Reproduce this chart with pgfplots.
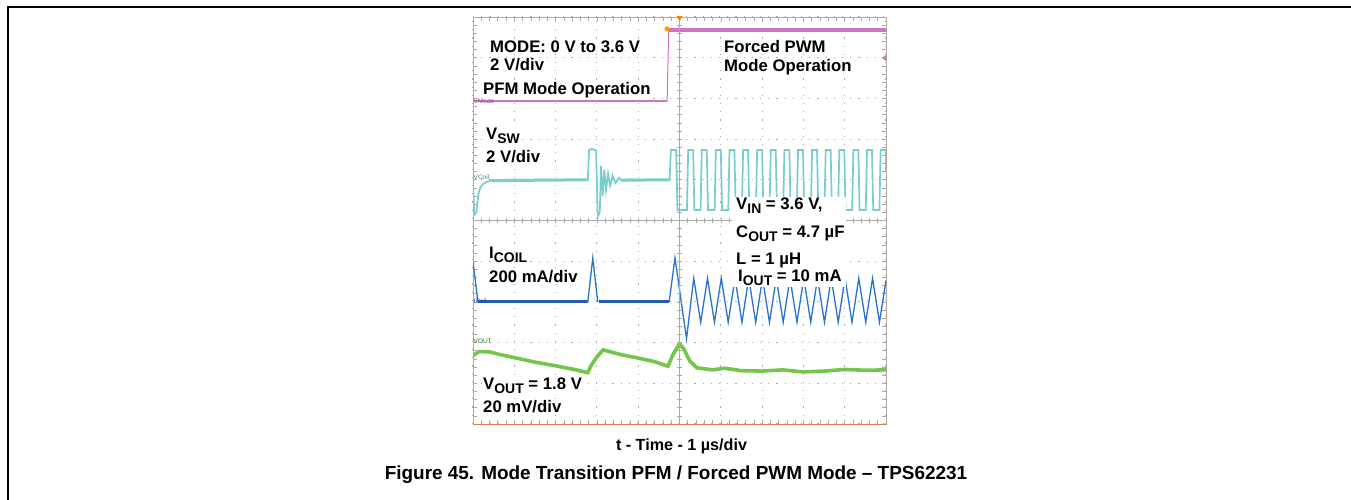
\documentclass[border=0pt]{standalone}
\usepackage{pgfplots}
\pgfplotsset{compat=1.18}
\usepackage{fontspec}
\setmainfont{Liberation Sans}
\definecolor{cmode}{RGB}{208,115,195}
\definecolor{csw}{RGB}{120,205,205}
\definecolor{ccoil}{RGB}{40,115,205}
\definecolor{ccoilb}{RGB}{35,90,180}
\definecolor{cout}{RGB}{115,198,75}
\definecolor{gridc}{RGB}{170,170,170}
\definecolor{framec}{RGB}{185,170,160}
\newcommand{\ann}{\fontsize{16.8}{19}\selectfont\bfseries}
\newcommand{\sub}[1]{\raisebox{-4bp}{\fontsize{14}{14}\selectfont\bfseries #1}}
\newcommand{\chlab}{\fontsize{6.5}{7}\selectfont}
\begin{document}
\begin{tikzpicture}
\path[use as bounding box] (0,0) rectangle (1351bp,500bp);
\draw[line width=2bp] (8bp,0) -- (8bp,493bp) -- (1351bp,493bp);
\begin{axis}[at={(473bp,76bp)}, anchor=south west, width=413bp, height=407bp, scale only axis,
  xmin=0, xmax=10, ymin=0, ymax=10,
  xtick={0,...,10}, ytick={0,...,10}, xticklabels={}, yticklabels={},
  minor x tick num=4, minor y tick num=4, tick align=inside,
  major tick length=4bp, minor tick length=4bp,
  every tick/.style={gridc, line width=0.6bp},
  grid=major, major grid style={gridc, line width=1.1bp, dash pattern=on 1.1bp off 7.1bp},
  axis line style={draw=framec, line width=0.9bp},
  clip=true]
% VMode
\addplot[cmode, line width=2.4bp, no markers] coordinates {(0,7.93) (4.70,7.93)};
\addplot[cmode, line width=1bp, no markers] coordinates {(4.70,7.93) (4.74,9.68)};
\addplot[cmode, line width=3.6bp, no markers] coordinates {(4.74,9.68) (10,9.68)};
% VSW flat (noisy) parts
\addplot[csw, line width=3bp, no markers] coordinates {(0.45,5.98) (2.77,6.0)};
\addplot[csw, line width=3bp, no markers] coordinates {(3.6,5.99) (4.75,6.0)};
% VSW
\addplot[csw, line width=1.7bp, no markers] coordinates {
(0,5.95) (0.03,5.15) (0.08,5.2) (0.13,5.65) (0.18,5.82) (0.25,5.9) (0.35,5.96) (0.5,5.99) (0.8,6.0) (1.5,6.0) (2.2,6.0) (2.78,6.0)
(2.81,6.73) (2.88,6.76) (2.98,6.72) (3.02,5.1) (3.07,5.2) (3.1,6.35) (3.14,5.6) (3.18,6.25) (3.22,5.75) (3.27,6.15) (3.32,5.85) (3.38,6.1) (3.45,5.92) (3.53,6.05) (3.62,5.97) (3.75,6.01) (4.0,6.0) (4.5,6.0) (4.76,6.0)
(4.79,6.73) (4.92,6.73) (4.95,5.26)
(5.18,5.26) (5.21,6.73) (5.33,6.73) (5.36,5.26)
(5.51,5.26) (5.54,6.73) (5.66,6.73) (5.69,5.26)
(5.85,5.26) (5.88,6.73) (6.00,6.73) (6.03,5.26)
(6.18,5.26) (6.21,6.73) (6.33,6.73) (6.36,5.26)
(6.51,5.26) (6.54,6.73) (6.66,6.73) (6.69,5.26)
(6.85,5.26) (6.88,6.73) (7.00,6.73) (7.03,5.26)
(7.18,5.26) (7.21,6.73) (7.33,6.73) (7.36,5.26)
(7.51,5.26) (7.54,6.73) (7.66,6.73) (7.69,5.26)
(7.84,5.26) (7.87,6.73) (7.99,6.73) (8.02,5.26)
(8.18,5.26) (8.21,6.73) (8.33,6.73) (8.36,5.26)
(8.51,5.26) (8.54,6.73) (8.66,6.73) (8.69,5.26)
(8.84,5.26) (8.87,6.73) (8.99,6.73) (9.02,5.26)
(9.18,5.26) (9.21,6.73) (9.33,6.73) (9.36,5.26)
(9.51,5.26) (9.54,6.73) (9.66,6.73) (9.69,5.26)
(9.84,5.26) (9.87,6.73) (9.99,6.73) (10,6.2)};
% ICOIL PFM baseline
\addplot[ccoilb, line width=3bp, no markers] coordinates {(0.12,3.0) (2.78,3.0)};
\addplot[ccoilb, line width=3bp, no markers] coordinates {(3.05,3.0) (4.75,3.0)};
% ICOIL spikes and PWM
\addplot[ccoil, line width=1.3bp, no markers] coordinates {(0,3.98) (0.12,3.0)};
\addplot[ccoil, line width=1.3bp, no markers] coordinates {(2.78,3.0) (2.9,4.08) (3.02,3.0)};
\addplot[ccoil, line width=1.3bp, no markers] coordinates {
(4.75,3.0) (4.89,4.08) (5.17,2.10) (5.345,3.58) (5.513,2.50) (5.678,3.58) (5.846,2.50) (6.011,3.58) (6.179,2.50) (6.344,3.58) (6.512,2.50) (6.677,3.58) (6.845,2.50) (7.010,3.58) (7.178,2.50) (7.343,3.58) (7.511,2.50) (7.676,3.58) (7.844,2.50) (8.009,3.58) (8.177,2.50) (8.342,3.58) (8.510,2.50) (8.675,3.58) (8.843,2.50) (9.008,3.58) (9.176,2.50) (9.341,3.58) (9.509,2.50) (9.674,3.58) (9.842,2.50) (10,3.53)};
% VOUT
\addplot[cout, line width=3.6bp, no markers] coordinates {
(0,1.68) (0.15,1.78) (0.4,1.77) (0.6,1.72) (1.0,1.63) (1.5,1.52) (2.0,1.43) (2.5,1.33) (2.78,1.26) (2.85,1.42) (3.0,1.65) (3.15,1.82) (3.3,1.78) (3.6,1.70) (4.0,1.62) (4.4,1.53) (4.72,1.42) (4.85,1.72) (5.0,1.97) (5.1,1.85) (5.25,1.55) (5.42,1.38) (5.8,1.33) (6.1,1.37) (6.5,1.31) (7.0,1.30) (7.5,1.33) (8.0,1.28) (8.5,1.30) (9.0,1.34) (9.5,1.32) (10,1.33)};
\end{axis}
% bottom edge of screen
\draw[color={rgb,255:red,230;green,120;blue,90}, line width=0.9bp] (473bp,76bp) -- (886bp,76bp);
% centre lines with ticks
\draw[gridc, line width=0.8bp] (679.5bp,76bp) -- (679.5bp,483bp);
\draw[gridc, line width=0.8bp] (473bp,279.5bp) -- (886bp,279.5bp);
\foreach \i in {1,...,49} {
  \draw[gridc, line width=0.6bp] ({473bp+\i*8.26bp},277bp) -- ++(0,5bp);
  \draw[gridc, line width=0.6bp] (677bp,{76bp+\i*8.14bp}) -- ++(5bp,0);
}
% white box behind conditions
\fill[white] (732bp,213bp) rectangle (846bp,303bp);
% scope markers
\fill[orange] (676.5bp,484bp) -- (682.5bp,484bp) -- (679.5bp,479bp) -- cycle;
\fill[orange!80!yellow] (667bp,471bp) circle (2.5bp);
\fill[cmode] (886bp,445bp) -- (882bp,442bp) -- (886bp,439bp) -- cycle;
\node[anchor=west, text=cmode!70!black, inner sep=0] at (473.5bp,399bp) {\chlab VMode};
\node[anchor=west, text=csw!60!black, inner sep=0] at (473.5bp,323bp) {\chlab VCoil};
\node[anchor=west, text=ccoil!70!black, inner sep=0] at (473.5bp,199bp) {\chlab ICoil};
\node[anchor=west, text=cout!50!black, inner sep=0] at (473.5bp,159bp) {\chlab VOUT};
% annotations
\node[anchor=base west, fill=white, inner sep=1bp] at (489bp,447.3bp) {\ann MODE: 0 V to 3.6 V};
\node[anchor=base west, fill=white, inner sep=1bp] at (489bp,429.3bp) {\ann 2 V/div};
\node[anchor=base west, fill=white, inner sep=1bp] at (482bp,405bp) {\ann PFM Mode Operation};
\node[anchor=base west, fill=white, inner sep=1bp] at (723bp,447bp) {\ann Forced PWM};
\node[anchor=base west, fill=white, inner sep=1bp] at (723bp,428bp) {\ann Mode Operation};
\node[anchor=base west, fill=white, inner sep=1bp] at (485bp,360bp) {\ann V\sub{SW}};
\node[anchor=base west, fill=white, inner sep=1bp] at (485bp,337bp) {\ann 2 V/div};
\node[anchor=base west, inner sep=1bp] at (488bp,241bp) {\ann I\sub{COIL}};
\node[anchor=base west, fill=white, inner sep=1bp] at (488bp,217bp) {\ann 200 mA/div};
\node[anchor=base west, inner sep=1bp] at (735bp,290bp) {\ann V\sub{IN} = 3.6 V,};
\node[anchor=base west, inner sep=1bp] at (735bp,262bp) {\ann C\sub{OUT} = 4.7 µF};
\node[anchor=base west, inner sep=1bp] at (735bp,235bp) {\ann L = 1 µH};
\node[anchor=base west, inner sep=1bp] at (737bp,218bp) {\ann I\sub{OUT} = 10 mA};
\node[anchor=base west, fill=white, inner sep=1bp] at (482bp,110bp) {\ann V\sub{OUT} = 1.8 V};
\node[anchor=base west, fill=white, inner sep=1bp] at (482bp,87bp) {\ann 20 mV/div};
% axis label and caption
\node[anchor=base] at (681.5bp,49bp) {\fontsize{16.2}{18}\selectfont\bfseries t - Time - 1 µs/div};
\node[anchor=base] at (676bp,21bp) {\fontsize{19}{21}\selectfont\bfseries Figure 45. Mode Transition PFM / Forced PWM Mode – TPS62231};
\end{tikzpicture}
\end{document}
